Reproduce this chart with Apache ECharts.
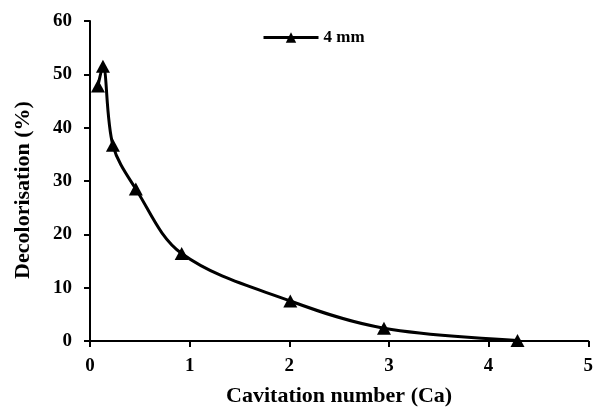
<!DOCTYPE html>
<html>
<head>
<meta charset="utf-8">
<script src="https://cdn.jsdelivr.net/npm/echarts@6/dist/echarts.min.js"></script>
<style>
  html, body { margin: 0; padding: 0; background: #fff; }
  #chart { width: 596px; height: 412px; }
</style>
</head>
<body>
<div id="chart"></div>
<script>
// Cavitation number (Ca) vs. decolorisation (%) for the 4 mm orifice
const cavitationNumber = [0.08, 0.13, 0.23, 0.46, 0.92, 2.01, 2.95, 4.29];
const decolorisation  = [47.8, 51.5, 36.7, 28.5, 16.4, 7.5, 2.4, 0.1];
const seriesName = '4 mm';

const points = cavitationNumber.map((x, i) => [x, decolorisation[i]]);
const font = '"Liberation Serif", "Times New Roman", serif';

const chart = echarts.init(document.getElementById('chart'), null, { renderer: 'canvas' });
chart.setOption({
  animation: false,
  backgroundColor: '#ffffff',
  grid: { left: 90, right: 4, top: 21, bottom: 69, containLabel: false },
  legend: {
    data: [seriesName],
    top: 24,
    left: 257,
    itemWidth: 55,
    itemHeight: 13,
    itemGap: 4,
    lineStyle: { width: 3 },
    textStyle: { fontFamily: font, fontWeight: 'bold', fontSize: 17, color: '#000' }
  },
  xAxis: {
    type: 'value',
    min: 0, max: 5, interval: 1,
    name: 'Cavitation number (Ca)',
    nameLocation: 'middle',
    nameGap: 44,
    nameTextStyle: { fontFamily: font, fontWeight: 'bold', fontSize: 22, color: '#000' },
    axisLine: { show: true, lineStyle: { color: '#000', width: 2 } },
    axisTick: { show: true, length: 6, lineStyle: { color: '#000', width: 2 } },
    axisLabel: { fontFamily: font, fontWeight: 'bold', fontSize: 19, color: '#000', margin: 16 },
    splitLine: { show: false }
  },
  yAxis: {
    type: 'value',
    min: 0, max: 60, interval: 10,
    name: 'Decolorisation (%)',
    nameLocation: 'middle',
    nameRotate: 90,
    nameGap: 56,
    nameTextStyle: {
      fontFamily: font, fontWeight: 'bold', fontSize: 22, color: '#000',
      padding: [0, 18, 0, 0]
    },
    axisLine: { show: true, lineStyle: { color: '#000', width: 2 } },
    axisTick: { show: true, length: 6, lineStyle: { color: '#000', width: 2 } },
    axisLabel: { fontFamily: font, fontWeight: 'bold', fontSize: 19, color: '#000', margin: 18 },
    splitLine: { show: false }
  },
  series: [{
    name: seriesName,
    type: 'line',
    data: points,
    smooth: 0.35,
    symbol: 'triangle',
    symbolSize: [14, 13],
    itemStyle: { color: '#000' },
    lineStyle: { color: '#000', width: 3 }
  }]
});
</script>
</body>
</html>
